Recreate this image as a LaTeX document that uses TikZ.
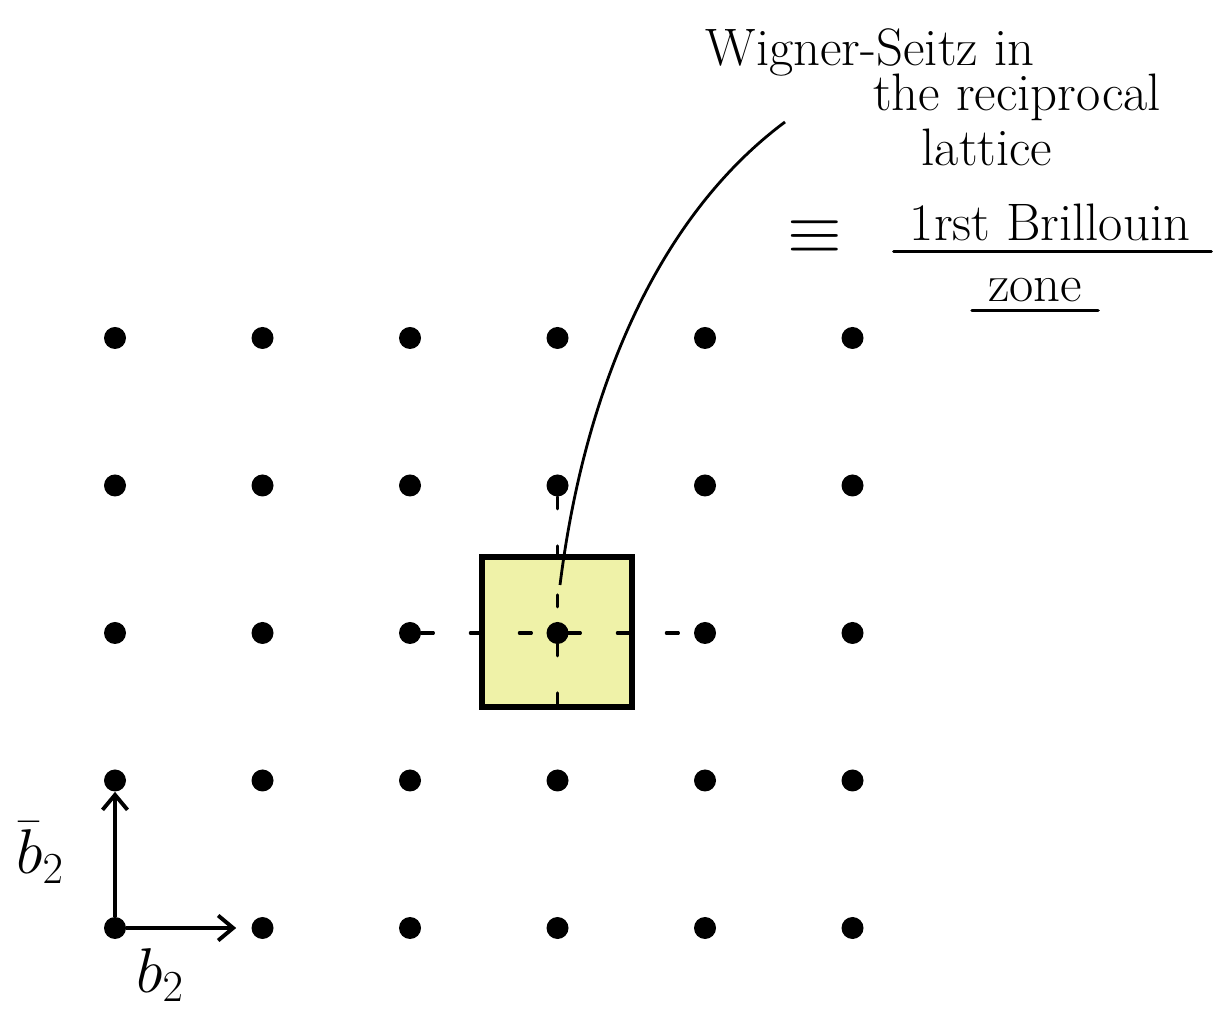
\RequirePackage{fix-cm}
\documentclass[tikz,border=0pt]{standalone}
\usepackage{amsmath,amssymb}
\usetikzlibrary{arrows.meta,positioning}
\definecolor{Zone}{HTML}{EFF2A8}

\begin{document}
\begin{tikzpicture}[every node/.style={font=\fontsize{30}{32}\selectfont,align=center},
dot/.style={circle,fill=black,inner sep=0pt,minimum size=4.4mm},
cell/.style={draw,line width=3.2pt,fill=Zone,minimum size=30mm,inner sep=0pt},
cut/.style={line width=1.8pt,dash pattern=on 2.4mm off 7.4mm,line cap=round},
axis/.style={->,line width=2.2pt},
lead/.style={line width=1.6pt},
rule/.style={line width=1.8pt,line cap=round},
vec/.style={font=\fontsize{36}{38}\selectfont,inner sep=1pt},
>={Straight Barb[length=3mm,width=5mm]}]
\useasboundingbox (0,0) rectangle (24.52,20.3);
\node[cell] (bz) at (11.14,7.66) {};
\foreach \i in {0,...,5}
  \foreach \j in {0,...,4}
    \node[dot] (g\i\j) at ({2.3+2.95*\i},{1.74+2.95*\j}) {};
\draw[cut] (g33) -- ([yshift=6mm]g31.north);
\draw[cut] (g22) -- (g42);
% primitive vectors
\draw[axis] (g00) -- (g01);
\draw[axis] (g00) -- ([xshift=-3mm]g10.west);
\node[vec] (bv) at (0.8,3.25) {$\bar{b}_2$};
\node[vec] (bh) at (3.2,0.8) {$b_2$};
% annotation
\node (ws1) at (17.4,19.25) {Wigner-Seitz in};
\node (ws2) at (20.34,18.35) {the reciprocal};
\node (ws3) at (19.74,17.35) {lattice};
\node[font=\fontsize{40}{42}\selectfont] (eq) at (16.3,15.56) {$\equiv$};
\node (br) at (21.0,15.86) {1rst Brillouin};
\node (zn) at (20.7,14.5) {zone};
\draw[rule] ([xshift=-0.2cm,yshift=-0.1cm]br.south west) -- ([xshift=0.3cm,yshift=-0.1cm]br.south east);
\draw[rule] ([xshift=-0.2cm,yshift=-0.05cm]zn.south west) -- ([xshift=0.2cm,yshift=-0.05cm]zn.south east);
\coordinate (tail) at (15.7,17.86);
\coordinate (tip) at (11.2,8.6);
\draw[lead] (tail) .. controls (13.2,16.0) and (11.7,12.6) .. (tip);
\end{tikzpicture}
\end{document}
